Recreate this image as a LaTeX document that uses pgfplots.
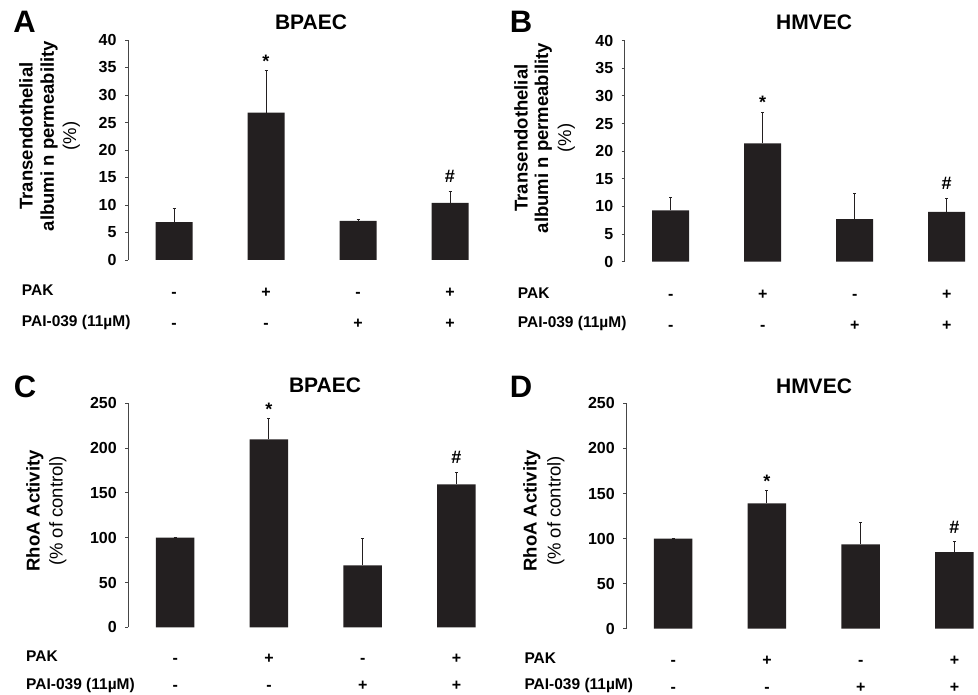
\documentclass[border=0pt]{standalone}
\usepackage{fontspec}
\setmainfont{Liberation Sans}
\usepackage{pgfplots}
\pgfplotsset{compat=1.18}
\definecolor{barfill}{RGB}{35,31,32}
\definecolor{axgray}{RGB}{70,70,70}

\pgfplotsset{
  panel/.style={
    scale only axis, ybar, bar width=37pt,
    xmin=-0.5, xmax=3.5, ymin=0, enlargelimits=false, clip=false,
    axis y line*=left, axis x line*=bottom,
    x axis line style={opacity=0},
    y axis line style={axgray, line width=0.9pt},
    tick align=outside, major tick length=3pt,
    ytick style={axgray, line width=0.9pt},
    xtick={0,1,2,3}, major x tick style=transparent,
    xticklabels={-,+,-,+},
    x tick label style={anchor=base, inner sep=1pt, yshift=-35pt, font=\bfseries\fontsize{16}{18}\selectfont},
    extra x ticks={0,1,2,3},
    extra x tick labels={-,-,+,+},
    extra x tick style={tick label style={yshift=-31pt}},
    y tick label style={font=\bfseries\fontsize{16}{18}\selectfont, xshift=-5pt},
    /pgf/number format/assume math mode=true,
    error bars/y dir=plus, error bars/y explicit,
    error bars/error bar style={barfill, line width=0.9pt},
    error bars/error mark options={rotate=90, mark size=1.5pt, line width=0.9pt, barfill},
  },
  lower/.style={
    x tick label style={yshift=1.3pt},
    extra x tick style={tick label style={yshift=4pt}},
  },
  bars/.style={fill=barfill, draw=none},
}
\tikzset{
  ttl/.style={font=\bfseries\fontsize{21}{24}\selectfont},
  plet/.style={font=\bfseries\fontsize{31}{34}\selectfont},
  rowf/.style={font=\bfseries\fontsize{15.5}{18}\selectfont, anchor=base west, inner sep=1pt},
  labb/.style={font=\bfseries\fontsize{18.5}{22}\selectfont, rotate=90, anchor=base},
  labn/.style={font=\fontsize{18.5}{22}\selectfont, rotate=90, anchor=base},
  sig/.style={font=\bfseries\fontsize{18}{20}\selectfont},
}

\begin{document}
\begin{tikzpicture}
\path[use as bounding box] (0pt,0pt) rectangle (978pt,695pt);

% ---- A ----
\begin{axis}[panel, at={(128pt,435pt)}, anchor=south west, width=368pt, height=220pt,
  ymax=40, ytick={0,5,...,40}]
\addplot[bars] coordinates {(0,6.9) +- (0,2.4) (1,26.8) +- (0,7.6) (2,7.1) +- (0,0.3) (3,10.4) +- (0,2.1)};
\node[sig] at (axis cs:1,36.2) {*};
\node[sig] at (axis cs:3,15.2) {\#};
\end{axis}
\node[plet] at (24.5pt,673.5pt) {A};
\node[ttl] at (311pt,673pt) {BPAEC};
\node[labb] at (32.5pt,559pt) {Transendothelial};
\node[labb] at (54pt,559pt) {albumi n permeability};
\node[labn] at (76pt,559pt) {(\%)};
\node[rowf] at (20.7pt,399.5pt) {PAK};
\node[rowf] at (20.7pt,368.5pt) {PAI-039 (11µM)};

% ---- B ----
\begin{axis}[panel, at={(624.7pt,433.3pt)}, anchor=south west, width=368pt, height=221pt,
  ymax=40, ytick={0,5,...,40}]
\addplot[bars] coordinates {(0,9.3) +- (0,2.3) (1,21.4) +- (0,5.6) (2,7.7) +- (0,4.6) (3,9.0) +- (0,2.5)};
\node[sig] at (axis cs:1,28.8) {*};
\node[sig] at (axis cs:3,14.2) {\#};
\end{axis}
\node[plet] at (521pt,673pt) {B};
\node[ttl] at (814pt,673pt) {HMVEC};
\node[labb] at (527.5pt,557pt) {Transendothelial};
\node[labb] at (548pt,557pt) {albumi n permeability};
\node[labn] at (571pt,557pt) {(\%)};
\node[rowf] at (516.7pt,396.8pt) {PAK};
\node[rowf] at (516.7pt,367.8pt) {PAI-039 (11µM)};

% ---- C ----
\begin{axis}[panel, lower, at={(128.3pt,67.7pt)}, anchor=south west, width=375pt, height=224pt,
  bar width=38.5pt, ymax=250, ytick={0,50,...,250}]
\addplot[bars] coordinates {(0,100) +- (0,0) (1,209.8) +- (0,23.2) (2,69) +- (0,30) (3,159.6) +- (0,13.4)};
\node[sig] at (axis cs:1,243) {*};
\node[sig] at (axis cs:3,190) {\#};
\end{axis}
\node[plet] at (25pt,308.3pt) {C};
\node[ttl] at (325pt,309.3pt) {BPAEC};
\node[labb] at (39.6pt,184pt) {RhoA Activity};
\node[labn] at (62.6pt,184pt) {(\% of control)};
\node[rowf] at (25pt,33.5pt) {PAK};
\node[rowf] at (25pt,5pt) {PAI-039 (11µM)};

% ---- D ----
\begin{axis}[panel, lower, at={(626.3pt,66.3pt)}, anchor=south west, width=375pt, height=225.3pt,
  bar width=38.5pt, ymax=250, ytick={0,50,...,250}]
\addplot[bars] coordinates {(0,100) +- (0,0) (1,139) +- (0,14) (2,93.7) +- (0,24) (3,85) +- (0,11.6)};
\node[sig] at (axis cs:1,164) {*};
\node[sig] at (axis cs:3,112.5) {\#};
\end{axis}
\node[plet] at (521pt,308.3pt) {D};
\node[ttl] at (814pt,309pt) {HMVEC};
\node[labb] at (536.6pt,184pt) {RhoA Activity};
\node[labn] at (560.6pt,184pt) {(\% of control)};
\node[rowf] at (523.3pt,31.2pt) {PAK};
\node[rowf] at (523.3pt,5pt) {PAI-039 (11µM)};
\end{tikzpicture}
\end{document}
